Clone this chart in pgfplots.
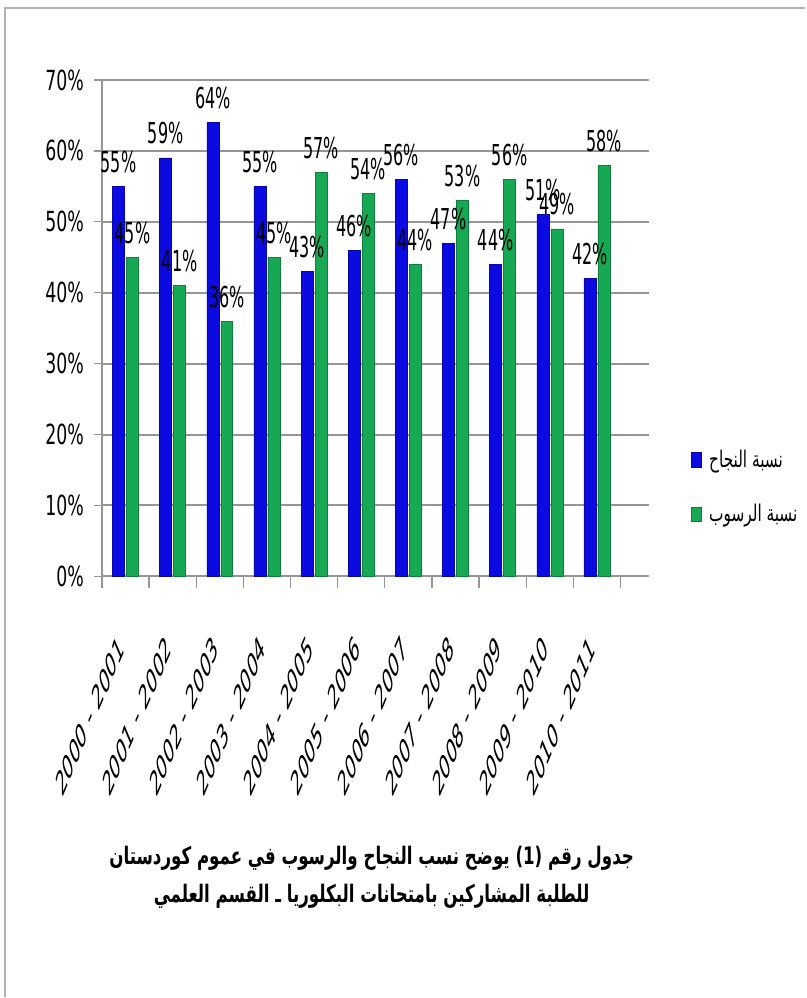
\documentclass[border=0pt]{standalone}
\usepackage{fontspec}
\usepackage{graphicx}
\usepackage{pgfplots}
\pgfplotsset{compat=1.18}
\setmainfont{DejaVu Sans}
\newfontfamily\arabicfont[Script=Arabic]{DejaVu Sans}
\TeXXeTstate=1
\definecolor{passblue}{RGB}{10,10,225}
\definecolor{failgreen}{RGB}{22,168,82}
\definecolor{gridgray}{RGB}{150,150,150}
\newcommand\yl[1]{\scalebox{1}[2.35]{\rotatebox{45}{#1}}}
\begin{document}
\begin{tikzpicture}[x=0.75pt,y=0.75pt]
\path (0,0) rectangle (806,998);
\draw[gray!60, line width=1.5pt] (5,0) -- (5,990) -- (806,990);
\begin{axis}[
  at={(76.5pt,315.75pt)}, anchor=south west,
  scale only axis, width=410.6pt, height=372.75pt,
  xmin=-0.5, xmax=11.1, ymin=0, ymax=70,
  clip=false,
  ybar=1.5pt, bar width=9pt,
  axis x line*=bottom, axis y line*=left,
  axis line style={gridgray, line width=1pt},
  ymajorgrids, grid style={gridgray, line width=1.5pt},
  ytick={0,10,...,70},
  yticklabel={\scalebox{1}[1.6]{\fontsize{13}{15}\selectfont\pgfmathprintnumber{\tick}\%}},
  yticklabel style={xshift=-4pt},
  /pgf/number format/assume math mode=true,
  tick align=outside,
  major tick length=6pt,
  ytick style={gridgray, line width=1pt},
  xtick={0,...,10},
  major x tick style={draw=none},
  minor xtick={-0.5,0.5,...,10.5},
  minor x tick style={gridgray, line width=1pt},
  minor tick length=9pt,
  xticklabels={\yl{2000 - 2001},\yl{2001 - 2002},\yl{2002 - 2003},\yl{2003 - 2004},\yl{2004 - 2005},\yl{2005 - 2006},\yl{2006 - 2007},\yl{2007 - 2008},\yl{2008 - 2009},\yl{2009 - 2010},\yl{2010 - 2011}},
  xticklabel style={anchor=north east, font=\fontsize{11}{13}\selectfont, inner sep=0pt, yshift=-36pt, xshift=0pt},
  nodes near coords={\scalebox{1}[1.8]{\pgfmathprintnumber{\pgfplotspointmeta}\%}},
  every node near coord/.append style={font=\fontsize{12}{14}\selectfont, inner sep=0pt, anchor=south, yshift=10pt, text=black},
  legend style={at={(1.07,0.18)}, anchor=west, draw=none, fill=none, row sep=22pt,
     font=\arabicfont\fontsize{11.5}{13}\selectfont, legend cell align=left},
  legend image code/.code={\fill[#1] (0pt,-5.5pt) rectangle (7pt,5.5pt);},
]
\addplot[fill=passblue, draw=passblue!75!black] coordinates {
 (0,55) (1,59) (2,64) (3,55) (4,43) (5,46) (6,56) (7,47) (8,44) (9,51) (10,42)};
\addplot[fill=failgreen, draw=failgreen!75!black] coordinates {
 (0,45) (1,41) (2,36) (3,45) (4,57) (5,54) (6,44) (7,53) (8,56) (9,49) (10,58)};
\legend{\hspace{4pt}\scalebox{1}[1.5]{\beginR نسبة النجاح\endR},\hspace{4pt}\scalebox{1}[1.5]{\beginR نسبة الرسوب\endR}}
\end{axis}
\node[align=center, font=\arabicfont\bfseries\fontsize{12.5}{15}\selectfont] at (372,120)
 {\scalebox{1}[1.45]{\beginR جدول رقم (1) يوضح نسب النجاح والرسوب في عموم كوردستان\endR}\\[9pt]
  \scalebox{1}[1.45]{\beginR للطلبة المشاركين بامتحانات البكلوريا ـ القسم العلمي\endR}};
\end{tikzpicture}
\end{document}
